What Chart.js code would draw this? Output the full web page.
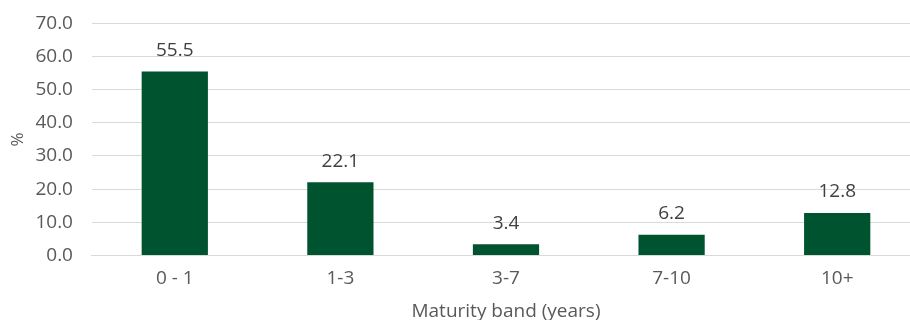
<!DOCTYPE html>
<html>
<head>
<meta charset="utf-8">
<script src="https://cdn.jsdelivr.net/npm/chart.js@4"></script>
<style>
  html, body { margin: 0; padding: 0; background: #fff; overflow: hidden; }
  #wrap { width: 920px; height: 327px; margin-top: -7px; }
</style>
</head>
<body>
<div id="wrap"><canvas id="myChart"></canvas></div>
<script>
var categories = ['0 - 1', '1-3', '3-7', '7-10', '10+'];
var values = [55.5, 22.1, 3.4, 6.2, 12.8];
var yTicks = [0, 10, 20, 30, 40, 50, 60, 70];

var FONT = '"Open Sans", "Liberation Sans", sans-serif';
var barColor = '#00532f';

// draws the value above each bar
var barLabels = {
    id: 'barLabels',
    afterDatasetsDraw: function (chart) {
        var ctx = chart.ctx;
        var meta = chart.getDatasetMeta(0);
        ctx.save();
        ctx.font = '19px ' + FONT;
        ctx.fillStyle = '#404040';
        ctx.textAlign = 'center';
        ctx.textBaseline = 'middle';
        meta.data.forEach(function (bar, i) {
            ctx.fillText(values[i].toFixed(1), bar.x, bar.y - 21);
        });
        ctx.restore();
    }
};

var ctx = document.getElementById('myChart').getContext('2d');
var myChart = new Chart(ctx, {
    type: 'bar',
    data: {
        labels: categories,
        datasets: [{
            data: values,
            backgroundColor: barColor,
            borderWidth: 0,
            barPercentage: 0.4,
            categoryPercentage: 1
        }]
    },
    options: {
        responsive: true,
        maintainAspectRatio: false,
        animation: false,
        layout: { padding: { top: 0, right: 0, left: 8, bottom: -3 } },
        plugins: {
            legend: { display: false },
            tooltip: { enabled: false }
        },
        scales: {
            x: {
                grid: { display: false, drawTicks: false },
                border: { color: '#d9d9d9', width: 1 },
                ticks: { color: '#595959', font: { family: FONT, size: 19 }, padding: 12 },
                title: {
                    display: true,
                    text: 'Maturity band (years)',
                    color: '#595959',
                    font: { family: FONT, size: 19 },
                    padding: { top: -2, bottom: 0 }
                }
            },
            y: {
                min: 0,
                max: 70,
                afterBuildTicks: function (axis) {
                    axis.ticks = yTicks.map(function (v) { return { value: v }; });
                },
                grid: { color: '#d9d9d9', lineWidth: 1, drawTicks: false },
                border: { display: false },
                ticks: {
                    color: '#595959',
                    font: { family: FONT, size: 19 },
                    padding: 19,
                    callback: function (v) { return v.toFixed(1); }
                },
                title: {
                    display: true,
                    text: '%',
                    color: '#595959',
                    font: { family: FONT, size: 17 },
                    padding: { top: 0, bottom: -12 }
                }
            }
        }
    },
    plugins: [barLabels]
});
</script>
</body>
</html>
